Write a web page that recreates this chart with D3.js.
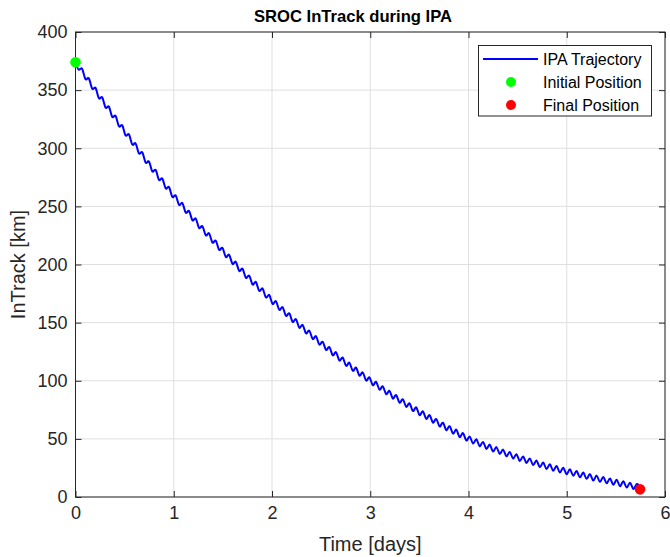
<!DOCTYPE html>
<html><head><meta charset="utf-8">
<script src="https://cdn.jsdelivr.net/npm/d3@7"></script>
<style>
body{margin:0;background:#fff;}
svg{display:block;font-family:"Liberation Sans",Arial,Helvetica,sans-serif;}
</style></head>
<body><svg id="chart" width="670" height="557"></svg>
<script>
// ---- data ----
const timeDays = [
0,0.034,0.068,0.102,0.136,0.17,0.204,0.238,0.272,0.306,
0.34,0.374,0.408,0.442,0.476,0.51,0.544,0.578,0.612,0.646,
0.68,0.714,0.748,0.782,0.816,0.85,0.884,0.918,0.952,0.986,
1.02,1.054,1.088,1.122,1.156,1.19,1.224,1.258,1.292,1.326,
1.36,1.394,1.428,1.462,1.496,1.53,1.564,1.598,1.632,1.666,
1.7,1.734,1.768,1.802,1.836,1.87,1.904,1.938,1.972,2.006,
2.04,2.074,2.108,2.142,2.176,2.21,2.244,2.278,2.312,2.346,
2.38,2.414,2.448,2.482,2.516,2.55,2.584,2.618,2.652,2.686,
2.72,2.754,2.788,2.822,2.856,2.89,2.924,2.958,2.992,3.026,
3.06,3.094,3.128,3.162,3.196,3.23,3.264,3.298,3.332,3.366,
3.4,3.434,3.468,3.502,3.536,3.57,3.604,3.638,3.672,3.706,
3.74,3.774,3.808,3.842,3.876,3.91,3.944,3.978,4.012,4.046,
4.08,4.114,4.148,4.182,4.216,4.25,4.284,4.318,4.352,4.386,
4.42,4.454,4.488,4.522,4.556,4.59,4.624,4.658,4.692,4.726,
4.76,4.794,4.828,4.862,4.896,4.93,4.964,4.998,5.032,5.066,
5.1,5.134,5.168,5.202,5.236,5.27,5.304,5.338,5.372,5.406,
5.44,5.474,5.508,5.542,5.576,5.61,5.644,5.678,5.712,5.746];
const inTrackKm = [
374.0,367.5,368.2,359.4,360.1,351.2,351.9,343.0,343.8,335.0,
335.8,327.0,327.8,318.9,319.7,311.0,311.9,303.2,304.1,295.5,
296.4,287.7,288.6,280.1,281.3,272.8,273.9,265.5,266.6,258.1,
259.4,251.3,252.8,244.6,246.1,238.0,239.5,231.4,233.0,225.1,
226.8,218.9,220.5,212.6,214.3,206.5,208.3,200.5,202.3,194.5,
196.3,188.5,190.4,182.8,184.9,177.3,179.3,171.7,173.7,166.1,
168.4,161.0,163.2,155.8,158.0,150.6,152.9,145.6,148.0,140.8,
143.1,135.9,138.3,131.1,133.5,126.5,129.0,121.9,124.5,117.4,
119.9,112.9,115.5,108.6,111.3,104.4,107.1,100.2,102.9,96.1,
99.0,92.3,95.2,88.5,91.4,84.7,87.7,81.1,84.1,77.6,
80.6,74.0,77.1,70.5,73.7,67.2,70.4,64.0,67.1,60.7,
63.9,57.5,60.9,54.6,57.9,51.6,54.9,48.6,52.0,46.0,
49.7,43.7,47.4,41.4,45.1,39.1,42.9,37.1,40.8,35.0,
38.8,33.0,36.8,31.0,34.9,29.3,33.2,27.5,31.4,25.7,
29.7,24.1,28.2,22.6,26.7,21.1,25.2,19.6,23.8,18.3,
22.4,16.9,21.0,15.6,19.7,14.2,18.4,13.0,17.2,11.8,
16.0,10.6,14.8,9.3,13.5,8.1,12.3,6.9,11.1,6.6];
const initialPosition = [0, 374];
const finalPosition = [5.746, 6.6];
const xTicks = [0,1,2,3,4,5,6];
const yTicks = [0,50,100,150,200,250,300,350,400];
const legendLabels = ["IPA Trajectory","Initial Position","Final Position"];
const titleText = "SROC InTrack during IPA";
const xLabelText = "Time [days]";
const yLabelText = "InTrack [km]";

// ---- drawing ----
const svg = d3.select("#chart");
const L = 75.5, R = 665, T = 32, B = 497;
const x = d3.scaleLinear().domain([0,6]).range([L,R]);
const y = d3.scaleLinear().domain([0,400]).range([B,T]);
const axisCol = "#262626";

// grid
const grid = svg.append("g");
grid.selectAll("line.vx").data(xTicks).join("line")
  .attr("x1",d=>x(d)).attr("x2",d=>x(d)).attr("y1",T).attr("y2",B)
  .attr("stroke","#dfdfdf").attr("stroke-width",1);
grid.selectAll("line.hy").data(yTicks).join("line")
  .attr("y1",d=>y(d)).attr("y2",d=>y(d)).attr("x1",L).attr("x2",R)
  .attr("stroke","#dfdfdf").attr("stroke-width",1);

// trajectory
const pts = timeDays.map((t,i)=>[t,inTrackKm[i]]);
const line = d3.line().x(d=>x(d[0])).y(d=>y(d[1])).curve(d3.curveNatural);
svg.append("path").attr("d",line(pts)).attr("fill","none")
  .attr("stroke","#0000ff").attr("stroke-width",2).attr("stroke-linejoin","round");

// axes
function styleAxis(g){
  g.select(".domain").remove();
  g.selectAll(".tick line").attr("stroke",axisCol);
  g.selectAll(".tick text").attr("fill",axisCol).attr("font-size",18)
    .attr("font-family",'"Liberation Sans",Arial,sans-serif');
}
svg.append("g").attr("transform",`translate(0,${B})`)
  .call(d3.axisBottom(x).tickValues(xTicks).tickSize(-6).tickPadding(9).tickFormat(d3.format("d")))
  .call(styleAxis);
svg.append("g").attr("transform",`translate(0,${T})`)
  .call(d3.axisTop(x).tickValues(xTicks).tickSize(-6).tickFormat(""))
  .call(styleAxis);
svg.append("g").attr("transform",`translate(${L},0)`)
  .call(d3.axisLeft(y).tickValues(yTicks).tickSize(-6).tickPadding(8).tickFormat(d3.format("d")))
  .call(styleAxis);
svg.append("g").attr("transform",`translate(${R},0)`)
  .call(d3.axisRight(y).tickValues(yTicks).tickSize(-6).tickFormat(""))
  .call(styleAxis);
svg.append("rect").attr("x",L).attr("y",T).attr("width",R-L).attr("height",B-T)
  .attr("fill","none").attr("stroke",axisCol).attr("stroke-width",1);

// markers
svg.append("circle").attr("cx",x(initialPosition[0])).attr("cy",y(initialPosition[1]))
  .attr("r",5.3).attr("fill","#00ff00");
svg.append("circle").attr("cx",x(finalPosition[0])).attr("cy",y(finalPosition[1]))
  .attr("r",5.3).attr("fill","#ff0000");

// labels
svg.append("text").attr("x",353).attr("y",22).attr("text-anchor","middle")
  .attr("font-size",16.6).attr("font-weight","bold").attr("fill","#000").text(titleText);
svg.append("text").attr("x",(L+R)/2).attr("y",551).attr("text-anchor","middle")
  .attr("font-size",20).attr("fill",axisCol).text(xLabelText);
svg.append("text").attr("transform",`translate(25,${(T+B)/2}) rotate(-90)`).attr("text-anchor","middle")
  .attr("font-size",20).attr("fill",axisCol).text(yLabelText);

// legend
const lg = svg.append("g");
lg.append("rect").attr("x",478.5).attr("y",45.5).attr("width",173).attr("height",70.5)
  .attr("fill","#fff").attr("stroke",axisCol).attr("stroke-width",1);
const rowY = [59, 82, 105];
lg.append("line").attr("x1",483).attr("x2",538).attr("y1",rowY[0]).attr("y2",rowY[0])
  .attr("stroke","#0000ff").attr("stroke-width",2);
lg.append("circle").attr("cx",511).attr("cy",rowY[1]).attr("r",5).attr("fill","#00ff00");
lg.append("circle").attr("cx",511).attr("cy",rowY[2]).attr("r",5).attr("fill","#ff0000");
lg.selectAll("text").data(legendLabels).join("text")
  .attr("x",543).attr("y",(d,i)=>rowY[i]).attr("dy","0.35em")
  .attr("font-size",16).attr("fill","#000").text(d=>d);
</script></body></html>
